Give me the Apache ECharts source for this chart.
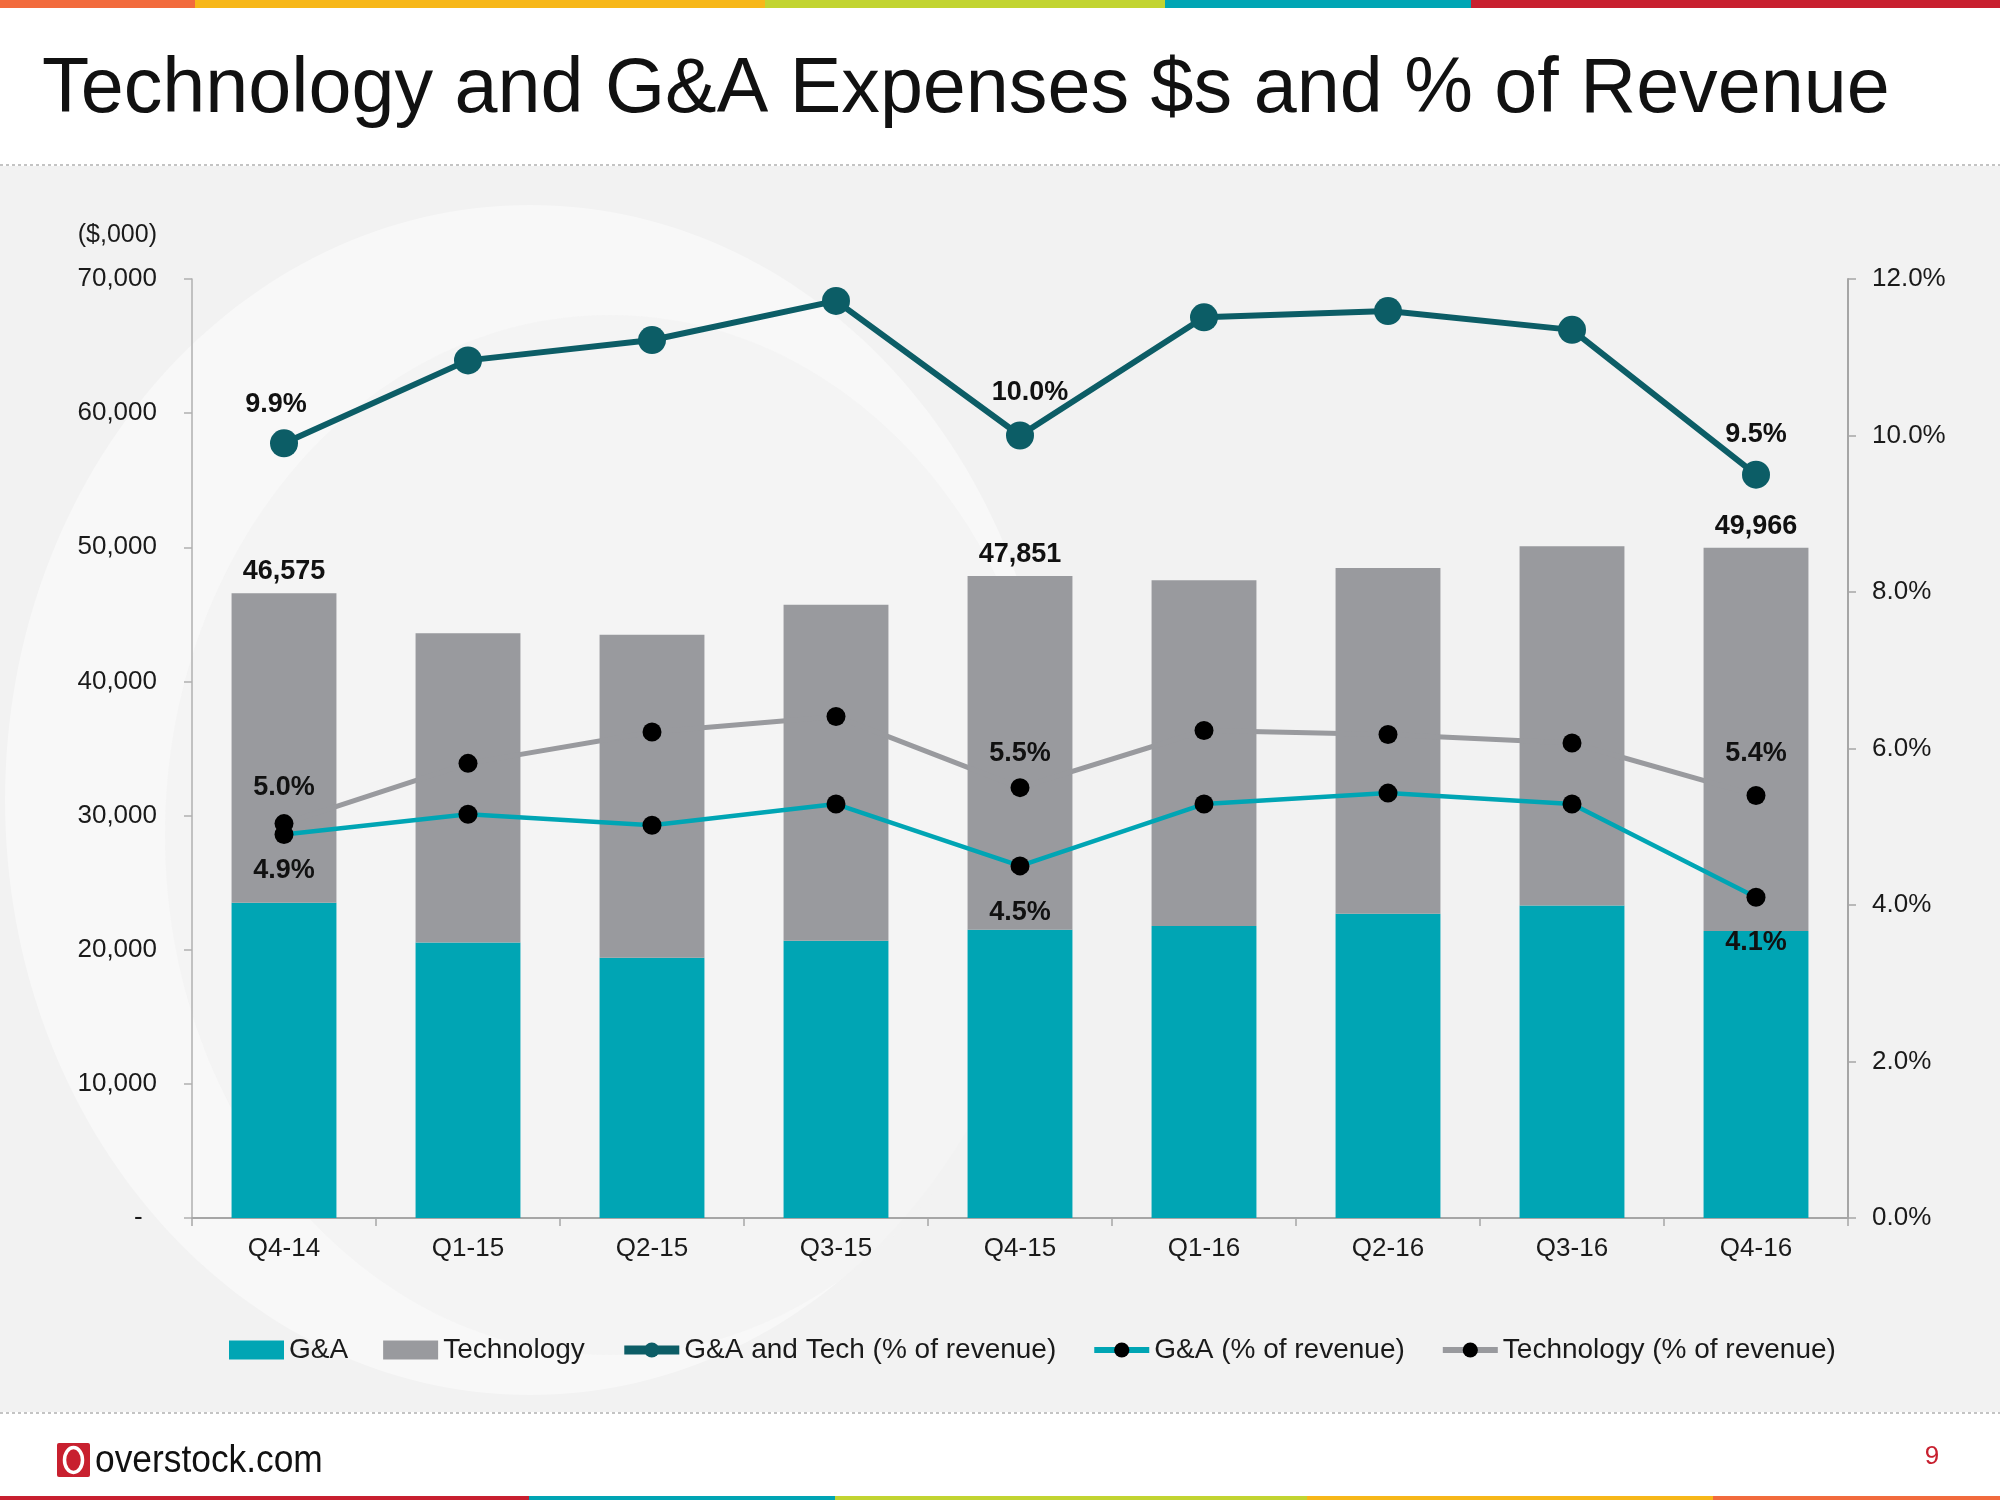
<!DOCTYPE html>
<html>
<head>
<meta charset="utf-8">
<script src="https://cdn.jsdelivr.net/npm/echarts@6/dist/echarts.min.js"></script>
<style>
html,body{margin:0;padding:0;background:#fff;}
#chart{width:2000px;height:1500px;}
</style>
</head>
<body>
<div id="chart"></div>
<script>
// ---- data ----
const categories = ['Q4-14','Q1-15','Q2-15','Q3-15','Q4-15','Q1-16','Q2-16','Q3-16','Q4-16'];
const gaValues   = [23510, 20530, 19410, 20660, 21490, 21770, 22680, 23300, 21390];
const techValues = [23065, 23070, 24070, 25050, 26361, 25780, 25780, 26770, 28576];
const totalValues = [46575, 43600, 43480, 45710, 47851, 47550, 48460, 50070, 49966];
const combinedPct = [9.9, 10.96, 11.22, 11.72, 10.0, 11.51, 11.59, 11.35, 9.5];
const gaPct       = [4.9, 5.16, 5.02, 5.29, 4.5, 5.29, 5.43, 5.29, 4.1];
const techPct     = [5.04, 5.81, 6.21, 6.41, 5.5, 6.23, 6.18, 6.07, 5.4];
const leftTicks  = {min: 0, max: 70000, interval: 10000};
const rightTicks = {min: 0, max: 12, interval: 2};
const labeledIdx = [0, 4, 8];

const FONT = "'Liberation Sans', Arial, Helvetica, sans-serif";
const C_GA = '#00a5b4', C_TECH = '#999a9e', C_DARK = '#0c5d66', C_TXT = '#1a1a1a';

const chart = echarts.init(document.getElementById('chart'), null, {renderer: 'canvas'});

const pctFmt = p => Number(p.value).toFixed(1) + '%';
const lblBase = {fontFamily: FONT, fontSize: 27, fontWeight: 'bold', color: '#111'};

// per-point label placement (styles only)
const darkLbl = {0: {distance: 11, offset: [-8, 0]}, 4: {distance: 15, offset: [10, 0]}, 8: {distance: 13, offset: [0, 0]}};
const gaLbl   = {0: {distance: 13}, 4: {distance: 24}, 8: {distance: 22}};
const techLbl = {0: {distance: 13}, 4: {distance: 11}, 8: {distance: 19}};

function withLabels(values, cfg, position) {
  return values.map((v, i) => {
    if (labeledIdx.indexOf(i) < 0) return v;
    return {value: v, label: Object.assign({show: true, position: position, formatter: pctFmt}, lblBase, cfg[i])};
  });
}

const techData = techValues.map((v, i) => {
  if (labeledIdx.indexOf(i) < 0) return v;
  return {value: v, label: Object.assign({show: true, position: 'top', distance: 8,
    formatter: totalValues[i].toLocaleString('en-US')}, lblBase)};
});

const stripeTop = [[0,195,'#f26b3d'],[195,765,'#f7b719'],[765,1165,'#c2d431'],[1165,1471,'#00a5b4'],[1471,2000,'#c8202f']];
const stripeBot = [[0,529,'#c8202f'],[529,835,'#00a5b4'],[835,1307,'#c2d431'],[1307,1713,'#f7b719'],[1713,2000,'#f26b3d']];

const graphics = [
  {type: 'rect', shape: {x: 0, y: 166, width: 2000, height: 1246}, style: {fill: '#f2f2f2'}, z: -10},
  {type: 'ellipse', shape: {cx: 530, cy: 800, rx: 525, ry: 595}, style: {fill: 'rgba(255,255,255,0.45)'}, z: -9},
  {type: 'ellipse', shape: {cx: 610, cy: 835, rx: 445, ry: 520}, style: {fill: 'rgba(242,242,242,0.7)'}, z: -8},
  {type: 'line', shape: {x1: 0, y1: 165, x2: 2000, y2: 165}, style: {stroke: '#c4c4c4', lineWidth: 2, lineDash: [3, 3]}, z: -7},
  {type: 'line', shape: {x1: 0, y1: 1413, x2: 2000, y2: 1413}, style: {stroke: '#c4c4c4', lineWidth: 2, lineDash: [3, 3]}, z: -7},
  {type: 'text', x: 42, y: 91, style: {text: 'Technology and G&A Expenses $s and % of Revenue', font: "77.3px " + FONT, fill: '#111', textVerticalAlign: 'middle'}, z: 10},
  {type: 'text', x: 157, y: 235, style: {text: '($,000)', font: "25px " + FONT, fill: C_TXT, textAlign: 'right', textVerticalAlign: 'middle'}, z: 10},
  // footer logo
  {type: 'rect', shape: {x: 57, y: 1443, width: 33, height: 34, r: 2}, style: {fill: '#c8202f'}, z: 10},
  {type: 'ellipse', shape: {cx: 73.5, cy: 1460, rx: 9, ry: 12.5}, style: {fill: 'none', stroke: '#fff', lineWidth: 3.5}, z: 11},
  {type: 'text', x: 95, y: 1481, scaleX: 0.93, style: {text: 'overstock.com', font: "38px " + FONT, fill: '#111', textVerticalAlign: 'bottom'}, z: 10},
  {type: 'text', x: 1932, y: 1457, style: {text: '9', font: "26px " + FONT, fill: '#c8202f', textAlign: 'center', textVerticalAlign: 'middle'}, z: 10}
];
stripeTop.forEach(s => graphics.push({type: 'rect', shape: {x: s[0], y: 0, width: s[1] - s[0], height: 8}, style: {fill: s[2]}, z: 10}));
stripeBot.forEach(s => graphics.push({type: 'rect', shape: {x: s[0], y: 1496, width: s[1] - s[0], height: 4}, style: {fill: s[2]}, z: 10}));

const option = {
  backgroundColor: '#ffffff',
  animation: false,
  textStyle: {fontFamily: FONT},
  graphic: {elements: graphics},
  grid: {left: 192, right: 152, top: 279, bottom: 282, containLabel: false},
  legend: {
    left: 224, top: 1331,
    itemWidth: 55, itemHeight: 19, itemGap: 35,
    textStyle: {fontFamily: FONT, fontSize: 28, color: C_TXT},
    data: [
      {name: 'G&A', icon: 'rect'},
      {name: 'Technology', icon: 'rect'},
      {name: 'G&A and Tech (% of revenue)', lineStyle: {width: 9}},
      {name: 'G&A (% of revenue)', lineStyle: {width: 6}},
      {name: 'Technology (% of revenue)', lineStyle: {width: 6}}
    ]
  },
  xAxis: {
    type: 'category', data: categories,
    axisLine: {lineStyle: {color: '#a6a6a6', width: 2}},
    axisTick: {show: true, length: 8, lineStyle: {color: '#a6a6a6', width: 1.5}},
    axisLabel: {margin: 18, fontFamily: FONT, fontSize: 26, color: C_TXT}
  },
  yAxis: [
    {
      type: 'value', position: 'left', min: leftTicks.min, max: leftTicks.max, interval: leftTicks.interval,
      splitLine: {show: false},
      axisLine: {show: true, lineStyle: {color: '#b0b0b0', width: 1.5}},
      axisTick: {show: true, length: 8, lineStyle: {color: '#b0b0b0', width: 1.5}},
      axisLabel: {margin: 35, fontFamily: FONT, fontSize: 26, color: C_TXT,
        formatter: v => v === 0 ? '-  ' : v.toLocaleString('en-US')}
    },
    {
      type: 'value', position: 'right', min: rightTicks.min, max: rightTicks.max, interval: rightTicks.interval,
      splitLine: {show: false},
      axisLine: {show: true, lineStyle: {color: '#a6a6a6', width: 2}},
      axisTick: {show: true, length: 8, lineStyle: {color: '#a6a6a6', width: 1.5}},
      axisLabel: {margin: 24, fontFamily: FONT, fontSize: 26, color: C_TXT,
        formatter: v => v.toFixed(1) + '%'}
    }
  ],
  series: [
    {name: 'G&A', type: 'bar', stack: 'exp', barWidth: '57%', data: gaValues,
     itemStyle: {color: C_GA}, z: 2},
    {name: 'Technology', type: 'bar', stack: 'exp', barWidth: '57%', data: techData,
     itemStyle: {color: C_TECH}, z: 2},
    {name: 'Technology (% of revenue)', type: 'line', yAxisIndex: 1, data: withLabels(techPct, techLbl, 'top'),
     symbol: 'circle', symbolSize: 19, lineStyle: {color: C_TECH, width: 5}, itemStyle: {color: '#000'},
     label: {show: false}, z: 3},
    {name: 'G&A (% of revenue)', type: 'line', yAxisIndex: 1, data: withLabels(gaPct, gaLbl, 'bottom'),
     symbol: 'circle', symbolSize: 19, lineStyle: {color: C_GA, width: 4.5}, itemStyle: {color: '#000'},
     label: {show: false}, z: 4},
    {name: 'G&A and Tech (% of revenue)', type: 'line', yAxisIndex: 1, data: withLabels(combinedPct, darkLbl, 'top'),
     symbol: 'circle', symbolSize: 28, lineStyle: {color: C_DARK, width: 6}, itemStyle: {color: C_DARK},
     label: {show: false}, z: 5}
  ]
};
chart.setOption(option);
</script>
</body>
</html>
